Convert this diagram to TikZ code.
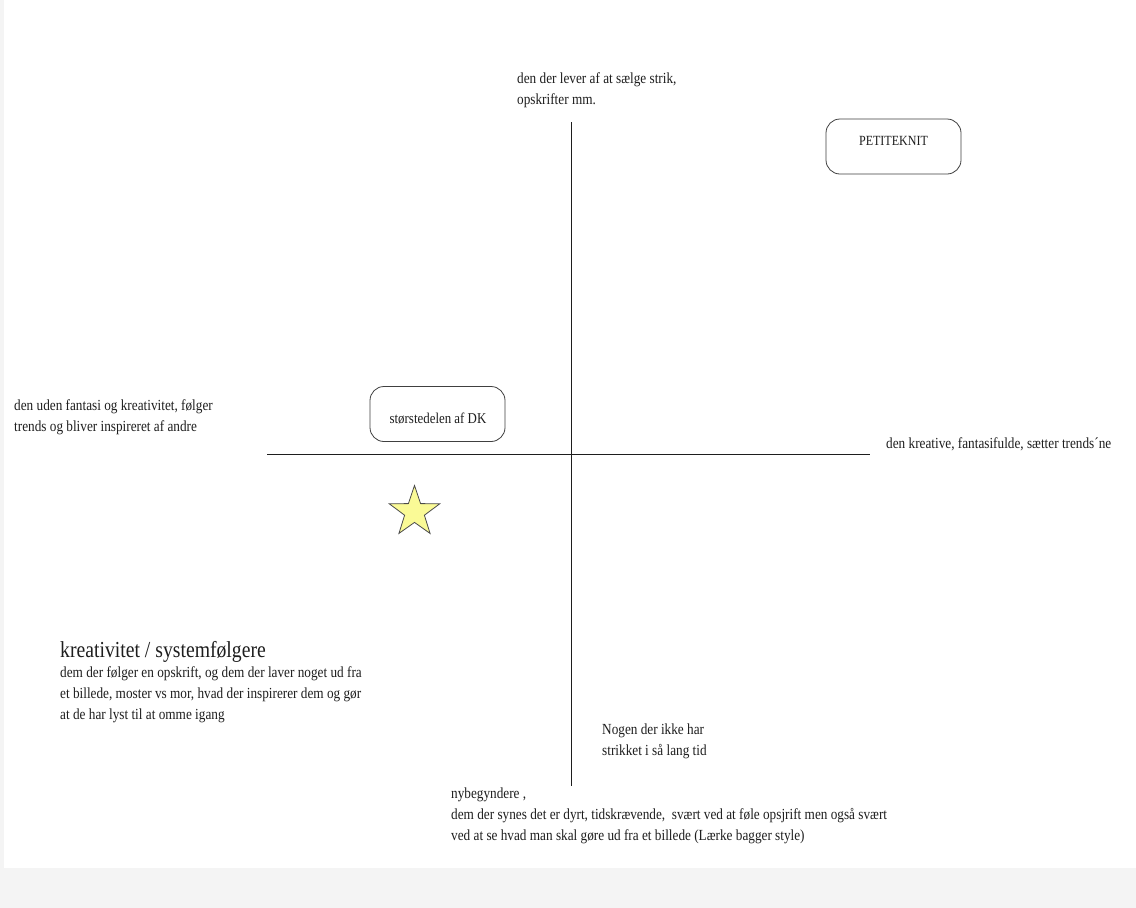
\documentclass[tikz,border=0pt]{standalone}
\usepackage{fontspec}
\setmainfont{Liberation Serif}[FakeStretch=0.86]
\usetikzlibrary{shapes.geometric}
\definecolor{pagegray}{HTML}{F4F4F4}
\definecolor{ink}{HTML}{1E1E1E}
\definecolor{staryellow}{HTML}{FAFA96}
\tikzset{
  txt/.style={anchor=base west, inner sep=0pt, align=left, text=ink, font=\fontsize{15.4}{20.7}\selectfont},
  bigtxt/.style={anchor=base west, inner sep=0pt, text=ink, font=\fontsize{22.9}{26}\selectfont},
  axis/.style={draw=ink, line width=0.9pt},
  tagbox/.style={draw=ink!85, line width=0.8pt, rounded corners=14pt, minimum width=135pt, minimum height=55pt, inner sep=0pt},
  tagtext/.style={anchor=base, inner sep=0pt, text=ink, font=\fontsize{15}{18}\selectfont},
  starmark/.style={star, star points=5, star point ratio=2.55, minimum size=53pt, inner sep=0pt, fill=staryellow, draw=ink!80, line width=0.8pt}
}
\begin{document}
\begin{tikzpicture}[x=1pt, y=-1pt]
\useasboundingbox (0,0) rectangle (1136,908);
\fill[pagegray] (0,0) rectangle (1136,908);
\fill[white] (4,0) rectangle (1136,868);
% axes
\coordinate (vtop) at (571,122);
\coordinate (vbot) at (571,786);
\coordinate (hl) at (267,454);
\coordinate (hr) at (870,454);
\draw[axis] (vtop) -- (vbot);
\draw[axis] (hl) -- (hr);
% boxes
\node[tagbox] (petite) at (893.5,146.5) {};
\node[tagtext, font=\fontsize{14}{17}\selectfont] (petitetext) at (893.5,145.5) {PETITEKNIT};
\node[tagbox] (dk) at (437.5,414) {};
\node[tagtext] (dktext) at (438,423) {størstedelen af DK};
% star
\node[starmark] (star) at (414.5,512) {};
% texts (anchor = baseline of last line)
\node[txt] (top) at (517,104.5) {den der lever af at sælge strik,\\opskrifter mm.};
\node[txt] (left) at (14,431) {den uden fantasi og kreativitet, følger\\trends og bliver inspireret af andre};
\node[txt] (right) at (886,448) {den kreative, fantasifulde, sætter trends´ne};
\node[bigtxt] (heading) at (60,657) {kreativitet / systemfølgere};
\node[txt] (desc) at (60,719) {dem der følger en opskrift, og dem der laver noget ud fra\\et billede, moster vs mor, hvad der inspirerer dem og gør\\at de har lyst til at omme igang};
\node[txt] (nogen) at (602,755) {Nogen der ikke har\\strikket i så lang tid};
\node[txt] (bottom) at (451,840) {nybegyndere ,\\dem der synes det er dyrt, tidskrævende,\ \ svært ved at føle opsjrift men også svært\\ved at se hvad man skal gøre ud fra et billede (Lærke bagger style)};
\end{tikzpicture}
\end{document}
